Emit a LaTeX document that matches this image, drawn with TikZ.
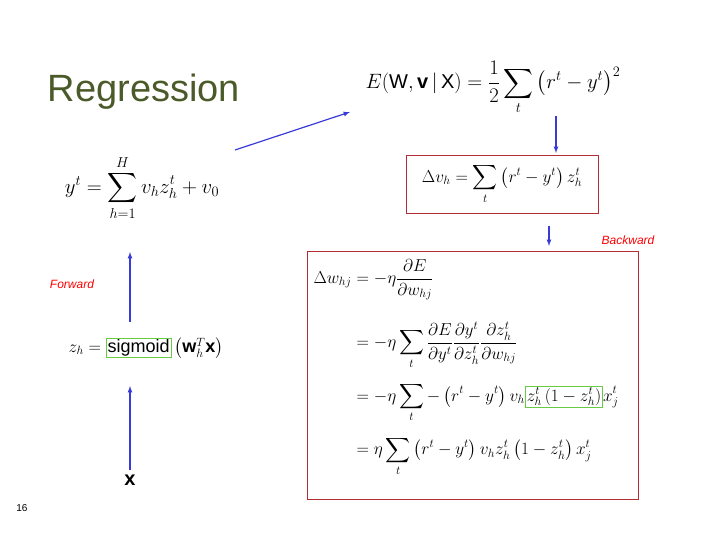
\documentclass[tikz,border=0pt]{standalone}
\usepackage{fontspec}
\usepackage{amsmath}
\setmainfont{Liberation Sans}
\definecolor{olive}{HTML}{4A5A28}
\definecolor{rbox}{HTML}{B22D35}
\definecolor{gbox}{HTML}{66CC44}
\definecolor{arr}{HTML}{3A3AD8}
\setlength{\fboxsep}{1pt}
\setlength{\fboxrule}{0.8pt}
\newcommand{\gb}[1]{\fcolorbox{gbox}{white}{$#1$}}
\newcommand{\fs}[1]{\fontsize{#1}{#1}\selectfont}
\begin{document}
\begin{tikzpicture}[x=1pt,y=-1pt,
  arrowc/.style={draw=arr,line width=1.2pt,-latex},
  lbl/.style={text=red,font=\itshape\fontsize{12}{14}\selectfont},
  redbox/.style={draw=rbox,line width=0.8pt}]
\useasboundingbox (0,0) rectangle (720,540);
\node[text=olive,font=\fs{38}] (title) at (144,92) {Regression};
\node (E) at (493,88) {\fs{20}$E(\mathrm{W},\mathbf{v}\,|\,\mathrm{X})=\dfrac12\displaystyle\sum_t\left(r^t-y^t\right)^2$};
\node[redbox,minimum width=192pt,minimum height=58pt] (dv) at (502,184) {};
\node (dvt) at (502,184) {\fs{18}$\Delta v_h=\displaystyle\sum_t\left(r^t-y^t\right)z_h^t$};
\node (y) at (142,188) {\fs{22}$y^t=\displaystyle\sum_{h=1}^{H}v_h z_h^t+v_0$};
\node[lbl] (bw) at (628,240) {Backward};
\node[lbl] (fw) at (72,284) {Forward};
\node (z) at (146,348) {\fs{18}$z_h=\gb{\mathrm{sigmoid}}\left(\mathbf{w}_h^T\mathbf{x}\right)$};
\node[font=\fs{20}\bfseries] (x) at (130,480) {x};
\node[font=\fs{10}] (pg) at (22,508) {16};
\node[redbox,minimum width=331pt,minimum height=248pt] (big) at (472.5,375) {};
\node[anchor=north west] (eq) at (310,256) {\fs{18}$\begin{aligned}
\Delta w_{hj}&=-\eta\frac{\partial E}{\partial w_{hj}}\\[18pt]
&=-\eta\sum_t\frac{\partial E}{\partial y^t}\frac{\partial y^t}{\partial z_h^t}\frac{\partial z_h^t}{\partial w_{hj}}\\[10pt]
&=-\eta\sum_t-\left(r^t-y^t\right)v_h\gb{z_h^t\left(1-z_h^t\right)}x_j^t\\[10pt]
&=\eta\sum_t\left(r^t-y^t\right)v_h z_h^t\left(1-z_h^t\right)x_j^t
\end{aligned}$};
\coordinate (a1) at (235,150); \coordinate (a2) at (350,112);
\draw[arrowc] (a1) -- (a2);
\coordinate (b1) at (556,116); \coordinate (b2) at (556,153);
\draw[arrowc] (b1) -- (b2);
\coordinate (c1) at (549,226); \coordinate (c2) at (549,246);
\draw[arrowc] (c1) -- (c2);
\coordinate (d1) at (130,322); \coordinate (d2) at (130,252);
\draw[arrowc] (d1) -- (d2);
\coordinate (e1) at (130,470); \coordinate (e2) at (130,386);
\draw[arrowc] (e1) -- (e2);
\end{tikzpicture}
\end{document}
